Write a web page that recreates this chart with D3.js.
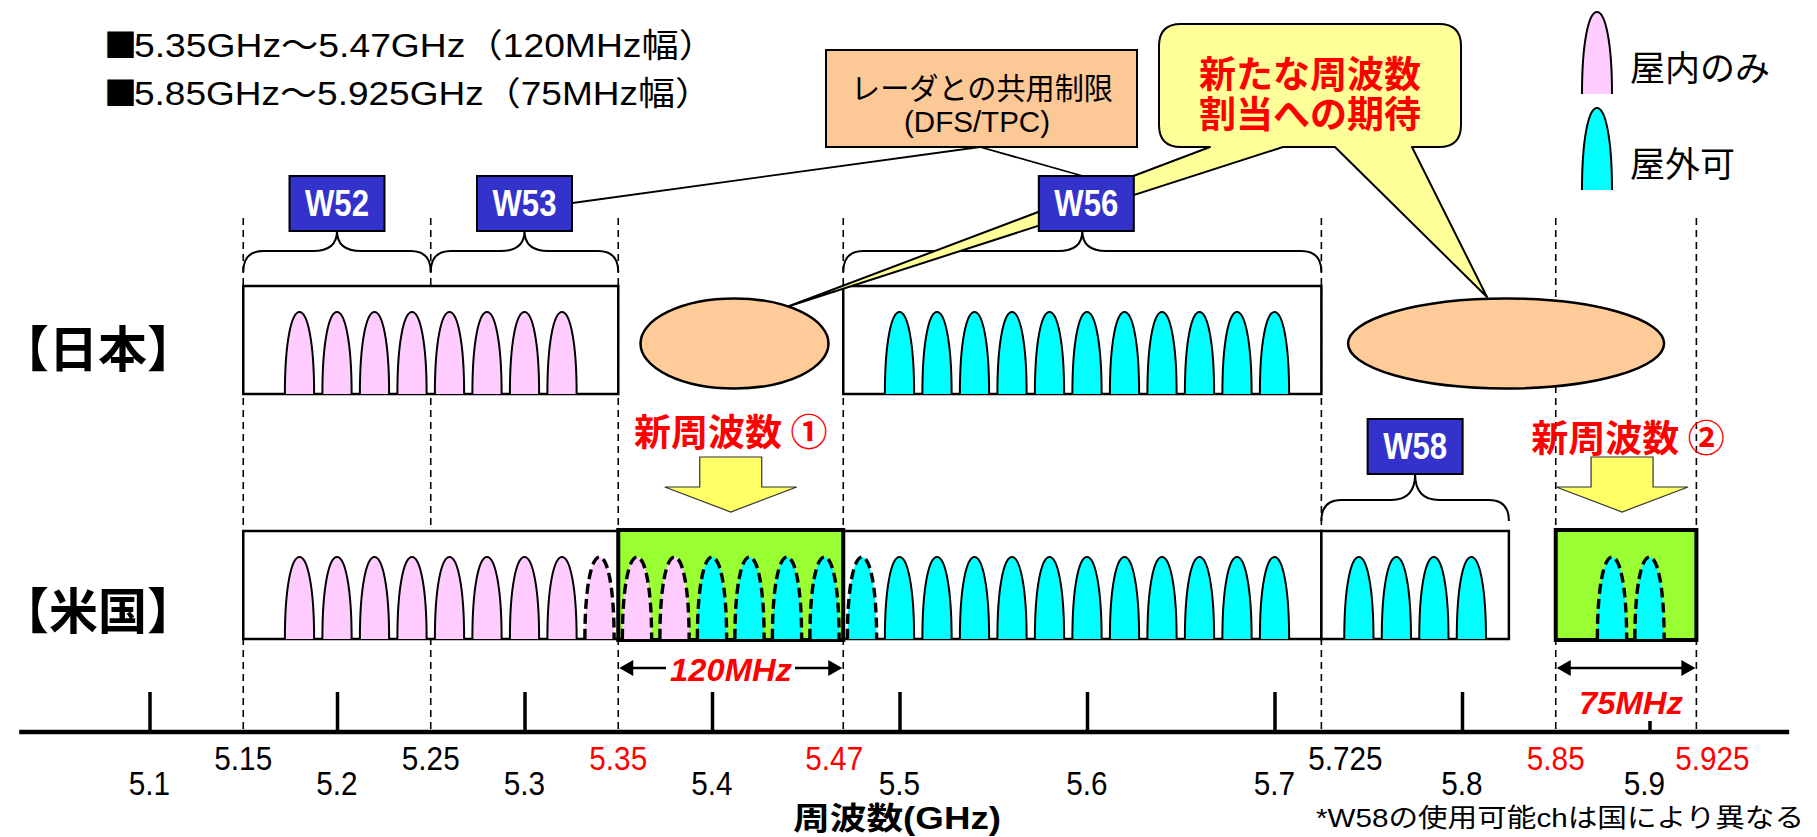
<!DOCTYPE html>
<html>
<head>
<meta charset="utf-8">
<script src="https://cdn.jsdelivr.net/npm/d3@7"></script>
<style>
  html, body { margin: 0; padding: 0; background: #fff; }
  svg { display: block; }
</style>
</head>
<body>
<svg id="chart" width="1817" height="837"></svg>
<script>
// ---- axis values (GHz) ----
const majorTicks = [5.1, 5.2, 5.3, 5.4, 5.5, 5.6, 5.7, 5.8];
const shortTicks = [5.9];
const tickLabels = ["5.1", "5.2", "5.3", "5.4", "5.5", "5.6", "5.7", "5.8", "5.9"];
const bandEdges = [5.15, 5.25, 5.35, 5.47, 5.725, 5.85, 5.925];
const bandEdgeLabels = ["5.15", "5.25", "5.35", "5.47", "5.725", "5.85", "5.925"];
const newBandEdges = [5.35, 5.47, 5.85, 5.925];

// ---- channel centre frequencies (GHz) ----
const jpIndoor = [5.18, 5.20, 5.22, 5.24, 5.26, 5.28, 5.30, 5.32];
const jpOutdoor = [5.50, 5.52, 5.54, 5.56, 5.58, 5.60, 5.62, 5.64, 5.66, 5.68, 5.70];
const usIndoor = [5.18, 5.20, 5.22, 5.24, 5.26, 5.28, 5.30, 5.32];
const usIndoorNew = [5.34, 5.36, 5.38];
const usOutdoorNew = [5.40, 5.42, 5.44, 5.46, 5.48];
const usOutdoor = [5.50, 5.52, 5.54, 5.56, 5.58, 5.60, 5.62, 5.64, 5.66, 5.68, 5.70];
const usW58 = [5.745, 5.765, 5.785, 5.805];
const usNew2 = [5.88, 5.90];

// ---- bands (GHz ranges) ----
const jpBands = [[5.15, 5.35], [5.47, 5.725]];
const usBands = [[5.15, 5.725], [5.725, 5.825]];
const newBands = [[5.35, 5.47], [5.85, 5.925]];
const bandNames = ["W52", "W53", "W56", "W58"];
const bandRanges = [[5.15, 5.25], [5.25, 5.35], [5.47, 5.725], [5.725, 5.825]];
const bandRows = ["jp", "jp", "jp", "us"];
const newBandNames = ["新周波数 ①", "新周波数 ②"];
const newBandWidths = ["120MHz", "75MHz"];

const C = {
  pink: "#FFCCFF", cyan: "#00FFFF", green: "#99FF33", blue: "#3333CC",
  peach: "#FFCC99", bubble: "#FFFF99", arrow: "#FFFF66", red: "#FF0000"
};
const FONT_JP = "'Noto Sans CJK JP', sans-serif";
const FONT_MIX = "'Liberation Sans', 'Noto Sans CJK JP', sans-serif";

const svg = d3.select("#chart");
svg.append("rect").attr("width", 1817).attr("height", 837).attr("fill", "#fff");

const x = d3.scaleLinear().domain([5.1, 5.9]).range([149.5, 1649.5]);

const rows = {
  jp: { top: 286, bottom: 394 },
  us: { top: 531, bottom: 639 }
};
const axisY = 732;
const chHalf = 0.0078;   // half of drawn channel width, GHz
const chHeight = 82;

// narrows text horizontally so glyphs look tall and condensed
function condense(sel, factor) {
  sel.each(function () {
    const w = this.getComputedTextLength();
    d3.select(this).attr("textLength", w * factor).attr("lengthAdjust", "spacingAndGlyphs");
  });
}

function bumpPath(cx, base, hw, h) {
  const l = cx - hw, r = cx + hw, t = base - h;
  return `M${l},${base} C${l},${base - 0.64 * h} ${cx - 0.55 * hw},${t} ${cx},${t}` +
         ` C${cx + 0.55 * hw},${t} ${r},${base - 0.64 * h} ${r},${base}`;
}

function bracePath(x1, x2, cx, yEnd, yMid, yTip) {
  const r = 20, rc = 24;
  return `M${x1},${yEnd} Q${x1},${yMid} ${x1 + r},${yMid} H${cx - rc}` +
         ` Q${cx},${yMid} ${cx},${yTip} Q${cx},${yMid} ${cx + rc},${yMid}` +
         ` H${x2 - r} Q${x2},${yMid} ${x2},${yEnd}`;
}

// ---- dashed band-edge guides ----
svg.append("g").selectAll("line").data(bandEdges).join("line")
  .attr("x1", d => x(d)).attr("x2", d => x(d))
  .attr("y1", 218).attr("y2", axisY)
  .attr("stroke", "#000").attr("stroke-width", 1.6)
  .attr("stroke-dasharray", "7,5");

// ---- frequency axis ----
const axisG = svg.append("g").attr("transform", `translate(0,${axisY})`);
axisG.append("g")
  .call(d3.axisTop(x).tickValues(majorTicks).tickSize(40).tickFormat(""))
  .call(g => g.select(".domain").remove())
  .call(g => g.selectAll(".tick line").attr("stroke", "#000").attr("stroke-width", 3.5));
axisG.append("g")
  .call(d3.axisTop(x).tickValues(shortTicks).tickSize(11).tickFormat(""))
  .call(g => g.select(".domain").remove())
  .call(g => g.selectAll(".tick line").attr("stroke", "#000").attr("stroke-width", 3.5));
axisG.append("line")
  .attr("x1", x(5.0305)).attr("x2", x(5.9745))
  .attr("y1", 0).attr("y2", 0)
  .attr("stroke", "#000").attr("stroke-width", 4.5);

const tickVals = majorTicks.concat(shortTicks);
const tickShift = { "5.9": -5 };
svg.append("g").selectAll("text").data(tickVals).join("text")
  .attr("x", (d, i) => x(d) + (tickShift[tickLabels[i]] || 0))
  .attr("y", 795)
  .attr("text-anchor", "middle")
  .attr("font-family", FONT_MIX).attr("font-size", 33)
  .attr("fill", "#000")
  .text((d, i) => tickLabels[i])
  .call(condense, 0.9);

const edgeShift = { "5.47": -9, "5.725": 24, "5.925": 16 };
svg.append("g").selectAll("text").data(bandEdges).join("text")
  .attr("x", (d, i) => x(d) + (edgeShift[bandEdgeLabels[i]] || 0))
  .attr("y", 770)
  .attr("text-anchor", "middle")
  .attr("font-family", FONT_MIX).attr("font-size", 33)
  .attr("fill", d => newBandEdges.includes(d) ? C.red : "#000")
  .text((d, i) => bandEdgeLabels[i])
  .call(condense, 0.9);

svg.append("text")
  .attr("x", 897).attr("y", 818)
  .attr("text-anchor", "middle").attr("dominant-baseline", "central")
  .attr("font-family", FONT_MIX).attr("font-size", 31).attr("font-weight", "bold")
  .attr("textLength", 208).attr("lengthAdjust", "spacingAndGlyphs")
  .text("周波数(GHz)");

svg.append("text")
  .attr("x", 1316).attr("y", 818)
  .attr("dominant-baseline", "central")
  .attr("font-family", FONT_MIX).attr("font-size", 26)
  .attr("textLength", 488).attr("lengthAdjust", "spacingAndGlyphs")
  .text("*W58の使用可能chは国により異なる");

// ---- braces over bands ----
const braceG = svg.append("g").attr("fill", "none").attr("stroke", "#000").attr("stroke-width", 2);
bandRanges.forEach((rg, i) => {
  const x1 = x(rg[0]), x2 = x(rg[1]), cx = (x1 + x2) / 2;
  const ys = bandRows[i] === "jp" ? [272, 251, 231] : [521, 500, 474];
  braceG.append("path").attr("d", bracePath(x1, x2, cx, ys[0], ys[1], ys[2]));
});

// ---- lines from the DFS/TPC note ----
const dfsAnchor = [980, 147];
svg.append("g").attr("stroke", "#000").attr("stroke-width", 1.8)
  .selectAll("line").data([[x(5.3) + 48, 203], [x(5.5975) + 4, 177]]).join("line")
  .attr("x1", dfsAnchor[0]).attr("y1", dfsAnchor[1])
  .attr("x2", d => d[0]).attr("y2", d => d[1]);

// ---- Japan row ----
svg.append("g").selectAll("rect").data(jpBands).join("rect")
  .attr("x", d => x(d[0])).attr("y", rows.jp.top)
  .attr("width", d => x(d[1]) - x(d[0])).attr("height", rows.jp.bottom - rows.jp.top)
  .attr("fill", "#fff").attr("stroke", "#000").attr("stroke-width", 2.5);

function drawBumps(data, row, fill, dashed) {
  const base = rows[row].bottom;
  svg.append("g").selectAll("path").data(data).join("path")
    .attr("d", d => bumpPath(x(d), base, x(d + chHalf) - x(d), chHeight))
    .attr("fill", fill).attr("stroke", "#000")
    .attr("stroke-width", dashed ? 3.4 : 2)
    .attr("stroke-dasharray", dashed ? "10,5" : null);
}
drawBumps(jpIndoor, "jp", C.pink, false);
drawBumps(jpOutdoor, "jp", C.cyan, false);

// ---- US row ----
svg.append("g").selectAll("rect").data(usBands).join("rect")
  .attr("x", d => x(d[0])).attr("y", rows.us.top)
  .attr("width", d => x(d[1]) - x(d[0])).attr("height", rows.us.bottom - rows.us.top)
  .attr("fill", "#fff").attr("stroke", "#000").attr("stroke-width", 2.5);
svg.append("g").selectAll("rect").data(newBands).join("rect")
  .attr("x", d => x(d[0])).attr("y", rows.us.top - 1)
  .attr("width", d => x(d[1]) - x(d[0])).attr("height", rows.us.bottom - rows.us.top + 2)
  .attr("fill", C.green).attr("stroke", "#000").attr("stroke-width", 4);

drawBumps(usIndoor, "us", C.pink, false);
drawBumps(usIndoorNew, "us", C.pink, true);
drawBumps(usOutdoorNew, "us", C.cyan, true);
drawBumps(usOutdoor, "us", C.cyan, false);
drawBumps(usW58, "us", C.cyan, false);
drawBumps(usNew2, "us", C.cyan, true);

// ---- unallocated spectrum ovals ----
svg.append("g").selectAll("ellipse").data([[x(5.412), 45, 94], [x(5.8235), 45, 158]]).join("ellipse")
  .attr("cx", d => d[0]).attr("cy", 343.5).attr("rx", d => d[2]).attr("ry", d => d[1])
  .attr("fill", C.peach).attr("stroke", "#000").attr("stroke-width", 2.5);

// ---- speech bubble with two tails ----
{
  const bx0 = 1159, bx1 = 1461, by0 = 24, by1 = 147, r = 22;
  const d = `M${bx0 + r},${by0} H${bx1 - r} Q${bx1},${by0} ${bx1},${by0 + r} V${by1 - r}` +
    ` Q${bx1},${by1} ${bx1 - r},${by1} H1412 L1487,297 L1335,${by1} H1283 L788,306.5 L1210,${by1}` +
    ` H${bx0 + r} Q${bx0},${by1} ${bx0},${by1 - r} V${by0 + r} Q${bx0},${by0} ${bx0 + r},${by0} Z`;
  svg.append("path").attr("d", d)
    .attr("fill", C.bubble).attr("stroke", "#000").attr("stroke-width", 2)
    .attr("stroke-linejoin", "round");
  svg.append("text")
    .attr("font-family", FONT_JP).attr("font-weight", "bold")
    .attr("font-size", 37).attr("fill", C.red).attr("text-anchor", "middle")
    .attr("dominant-baseline", "central")
    .selectAll("tspan").data(["新たな周波数", "割当への期待"]).join("tspan")
    .attr("x", 1310).attr("y", (d, i) => 72 + i * 40)
    .text(d => d);
}

// ---- band name boxes ----
bandRanges.forEach((rg, i) => {
  const cx = (x(rg[0]) + x(rg[1])) / 2 + (bandNames[i] === "W56" ? 4 : 0);
  const y0 = bandRows[i] === "jp" ? 176 : 419;
  const g = svg.append("g");
  g.append("rect").attr("x", cx - 47.5).attr("y", y0).attr("width", 95).attr("height", 55)
    .attr("fill", C.blue).attr("stroke", "#000").attr("stroke-width", 2);
  g.append("text").attr("x", cx).attr("y", y0 + 27.5)
    .attr("text-anchor", "middle").attr("dominant-baseline", "central")
    .attr("font-family", FONT_MIX).attr("font-weight", "bold").attr("font-size", 36)
    .attr("textLength", 64).attr("lengthAdjust", "spacingAndGlyphs")
    .attr("fill", "#fff").text(bandNames[i]);
});

// ---- DFS/TPC note ----
svg.append("rect").attr("x", 826).attr("y", 50).attr("width", 311).attr("height", 97)
  .attr("fill", "#FCC896").attr("stroke", "#000").attr("stroke-width", 2);
svg.append("text").attr("x", 982).attr("y", 86)
  .attr("text-anchor", "middle").attr("dominant-baseline", "central")
  .attr("font-family", FONT_JP).attr("font-size", 30)
  .attr("textLength", 262).attr("lengthAdjust", "spacingAndGlyphs")
  .text("レーダとの共用制限");
svg.append("text").attr("x", 977).attr("y", 122)
  .attr("text-anchor", "middle").attr("dominant-baseline", "central")
  .attr("font-family", FONT_MIX).attr("font-size", 29)
  .attr("textLength", 146).attr("lengthAdjust", "spacingAndGlyphs")
  .text("(DFS/TPC)");

// ---- new band labels, arrows and widths ----
const nbLabelY = [430, 436];
newBands.forEach((rg, i) => {
  const x1 = x(rg[0]), x2 = x(rg[1]);
  const cx = (x1 + x2) / 2 + (i === 1 ? -4 : 0);
  svg.append("text").attr("x", (x1 + x2) / 2 + (i === 1 ? 2 : 0)).attr("y", nbLabelY[i])
    .attr("text-anchor", "middle").attr("dominant-baseline", "central")
    .attr("font-family", FONT_JP).attr("font-weight", "bold").attr("font-size", 37)
    .attr("fill", C.red).text(newBandNames[i]);
  // down arrow
  const sw = 31, hw = 66, top = 457, neck = 487, tip = 512;
  svg.append("path")
    .attr("d", `M${cx - sw},${top} H${cx + sw} V${neck} H${cx + hw} L${cx},${tip} L${cx - hw},${neck} H${cx - sw} Z`)
    .attr("fill", C.arrow).attr("stroke", "#333").attr("stroke-width", 1.2);

  // width dimension arrow
  const ay = 668;
  const wg = svg.append("g");
  const txt = newBandWidths[i];
  if (i === 0) {
    wg.append("line").attr("x1", x1 + 4).attr("x2", 666).attr("y1", ay).attr("y2", ay)
      .attr("stroke", "#000").attr("stroke-width", 2.5);
    wg.append("line").attr("x1", 795).attr("x2", x2 - 4).attr("y1", ay).attr("y2", ay)
      .attr("stroke", "#000").attr("stroke-width", 2.5);
    wg.append("text").attr("x", 731).attr("y", ay + 2)
      .attr("text-anchor", "middle").attr("dominant-baseline", "central")
      .attr("font-family", FONT_MIX).attr("font-style", "italic").attr("font-weight", "bold")
      .attr("font-size", 32)
      .attr("textLength", 122).attr("lengthAdjust", "spacingAndGlyphs")
      .attr("fill", C.red).text(txt);
  } else {
    wg.append("line").attr("x1", x1 + 4).attr("x2", x2 - 4).attr("y1", ay).attr("y2", ay)
      .attr("stroke", "#000").attr("stroke-width", 2.5);
    wg.append("text").attr("x", 1631).attr("y", 703)
      .attr("text-anchor", "middle").attr("dominant-baseline", "central")
      .attr("font-family", FONT_MIX).attr("font-style", "italic").attr("font-weight", "bold")
      .attr("font-size", 32)
      .attr("textLength", 104).attr("lengthAdjust", "spacingAndGlyphs")
      .attr("fill", C.red).text(txt);
  }
  wg.append("path").attr("d", `M${x1 + 1},${ay} L${x1 + 15},${ay - 8} L${x1 + 15},${ay + 8} Z`).attr("fill", "#000");
  wg.append("path").attr("d", `M${x2 - 1},${ay} L${x2 - 15},${ay - 8} L${x2 - 15},${ay + 8} Z`).attr("fill", "#000");
});

// ---- row labels ----
svg.append("g").attr("font-family", FONT_JP).attr("font-weight", "bold").attr("font-size", 49)
  .selectAll("text").data([["【日本】", 345], ["【米国】", 607]]).join("text")
  .attr("x", 0).attr("y", d => d[1]).attr("dominant-baseline", "central")
  .text(d => d[0]);

// ---- headline ranges ----
const headlines = [["5.35GHz～5.47GHz（120MHz幅）", 612], ["5.85GHz～5.925GHz（75MHz幅）", 608]];
headlines.forEach(([label, len], i) => {
  const y = 57 + i * 48;
  svg.append("text").attr("x", 104).attr("y", y)
    .attr("font-family", FONT_JP).attr("font-size", 33)
    .text("■");
  svg.append("text").attr("x", 134).attr("y", y)
    .attr("font-family", FONT_MIX).attr("font-size", 33)
    .attr("textLength", len - 30).attr("lengthAdjust", "spacingAndGlyphs")
    .text(label);
});

// ---- legend ----
const legend = [["屋内のみ", C.pink, 94], ["屋外可", C.cyan, 190]];
legend.forEach(([label, fill, base]) => {
  svg.append("path").attr("d", bumpPath(1597, base, 15, 82))
    .attr("fill", fill).attr("stroke", "#000").attr("stroke-width", 2);
  svg.append("text").attr("x", 1630).attr("y", base - 29)
    .attr("dominant-baseline", "central")
    .attr("font-family", FONT_JP).attr("font-size", 35)
    .text(label);
});
</script>
</body>
</html>
